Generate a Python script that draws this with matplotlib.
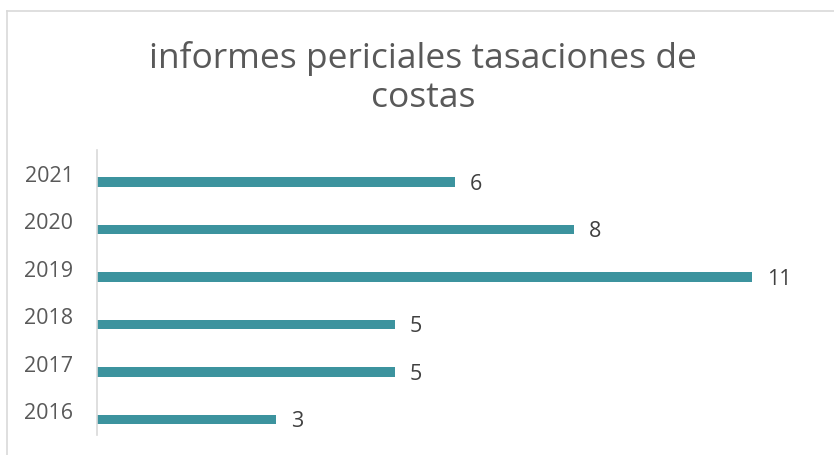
import matplotlib.pyplot as plt
from matplotlib.lines import Line2D

years = ['2016', '2017', '2018', '2019', '2020', '2021']
informes = [3, 5, 5, 11, 8, 6]

bar_color = '#3C939E'
text_color = '#595959'

plt.rcParams['font.family'] = ['Open Sans', 'DejaVu Sans']

fig = plt.figure(figsize=(8.34, 4.55), dpi=100)
ax = fig.add_axes([97/834, 1 - 435/455, 715/834, 285/455])

pos = [i - 0.17 for i in range(len(years))]
ax.barh(pos, informes, height=0.2, color=bar_color)
for p, v in zip(pos, informes):
    ax.text(v + 0.25, p - 0.05, str(v), va='center', ha='left',
            fontsize=15.5, color='#404040')

ax.set_xlim(0, 12)
ax.set_ylim(-0.5, len(years) - 0.5)
ax.set_yticks(range(len(years)))
ax.set_yticklabels(years, fontsize=15.5, color=text_color)
ax.tick_params(axis='y', length=0, pad=17)
ax.set_xticks([])
for s in ['top', 'right', 'bottom']:
    ax.spines[s].set_visible(False)
ax.spines['left'].set_color('#D9D9D9')
ax.spines['left'].set_linewidth(1.2)

fig.text(423/834, 1 - 78/455, 'informes periciales tasaciones de\ncostas',
         ha='center', va='center', fontsize=25.5, color=text_color,
         linespacing=1.22)

# chart area border
fig.add_artist(Line2D([7/834, 1], [1 - 11/455, 1 - 11/455],
                      transform=fig.transFigure, color='#D9D9D9', lw=1.2))
fig.add_artist(Line2D([7/834, 7/834], [0, 1 - 11/455],
                      transform=fig.transFigure, color='#D9D9D9', lw=1.2))

fig.savefig('out.png', dpi=100)
